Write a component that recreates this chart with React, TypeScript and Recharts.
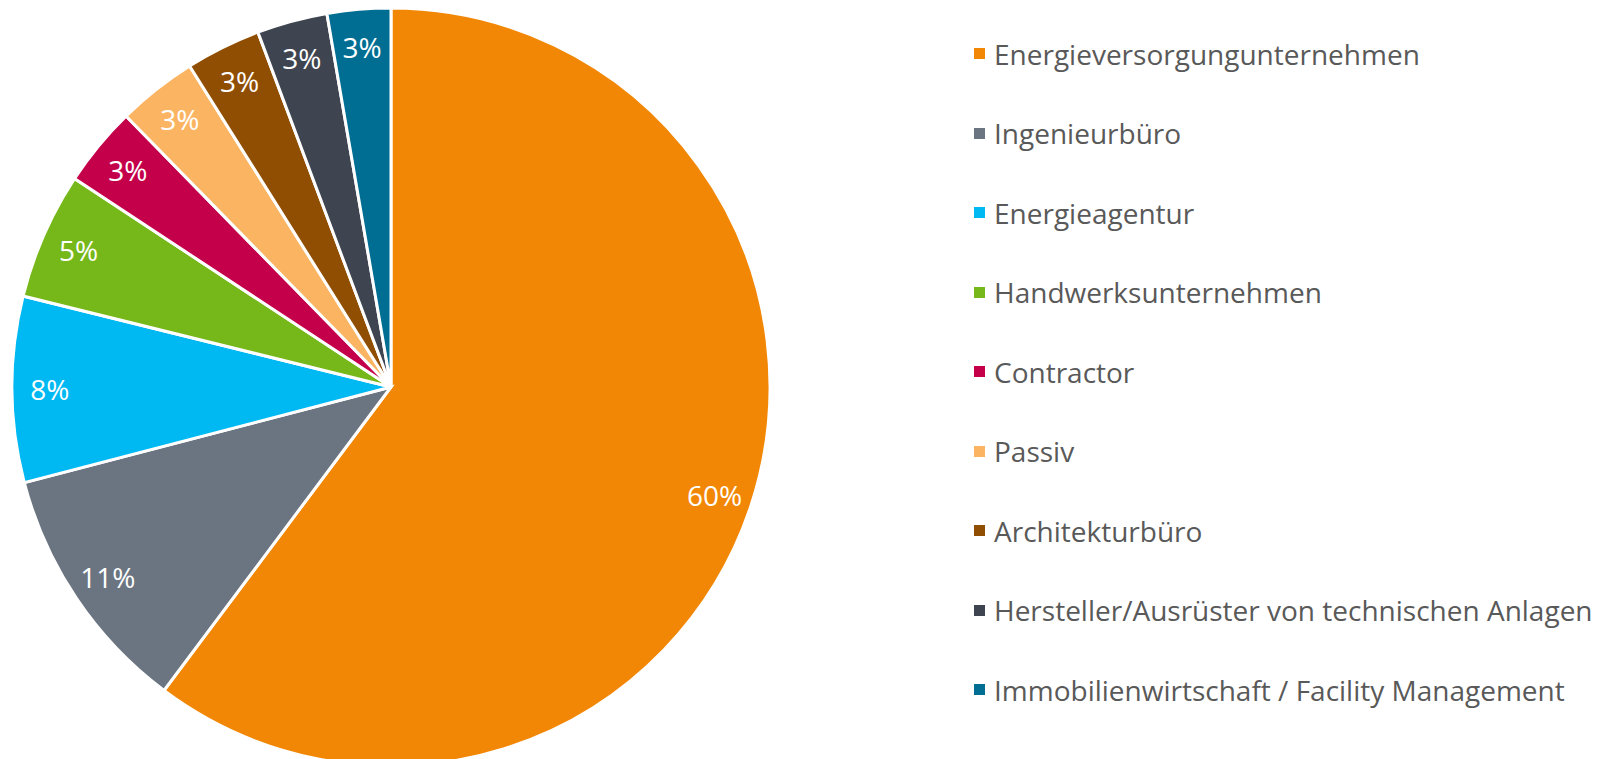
import React from 'react';
import { PieChart, Pie, Cell, Legend } from 'recharts';

const categories = [
  'Energieversorgungunternehmen',
  'Ingenieurbüro',
  'Energieagentur',
  'Handwerksunternehmen',
  'Contractor',
  'Passiv',
  'Architekturbüro',
  'Hersteller/Ausrüster von technischen Anlagen',
  'Immobilienwirtschaft / Facility Management',
];
const values = [60.1, 10.7, 7.9, 5.4, 3.4, 3.4, 3.2, 3.0, 2.7];
const colors = ['#F28705', '#6B7581', '#00B9F2', '#76B81A', '#C4004A', '#FBB462', '#8F4E02', '#3E4550', '#006E93'];

const data = categories.map((name, i) => ({ name, value: values[i] }));

const FONT = '"Open Sans", sans-serif';
const RADIAN = Math.PI / 180;

const renderLabel = (props: any) => {
  const { cx, cy, midAngle, outerRadius, percent } = props;
  const r = outerRadius * 0.9;
  const x = cx + r * Math.cos(-midAngle * RADIAN);
  const y = cy + r * Math.sin(-midAngle * RADIAN);
  return (
    <text x={x} y={y} fill="#FFFFFF" textAnchor="middle" dominantBaseline="central" fontFamily={FONT} fontSize={28}>
      {`${Math.round(percent * 100)}%`}
    </text>
  );
};

const renderLegend = () => {
  return (
    <div style={{ fontFamily: FONT }}>
      {categories.map((name, i) => (
        <div key={name} style={{ display: 'flex', alignItems: 'center', height: 79.5 }}>
          <span style={{ display: 'inline-block', width: 11, height: 11, background: colors[i], marginRight: 9, flexShrink: 0 }} />
          <span style={{ fontSize: 28, color: '#595959', whiteSpace: 'nowrap' }}>{name}</span>
        </div>
      ))}
    </div>
  );
};

export default function App() {
  return (
    <div style={{ position: 'absolute', left: 0, top: 0, width: 1601, height: 759, background: '#fff' }}>
      <PieChart width={1601} height={759} margin={{ top: 0, right: 0, bottom: 0, left: 0 }}>
        <Pie
          data={data}
          dataKey="value"
          nameKey="name"
          cx={391}
          cy={387}
          outerRadius={379}
          startAngle={90}
          endAngle={-270}
          stroke="#FFFFFF"
          strokeWidth={3}
          label={renderLabel}
          labelLine={false}
          isAnimationActive={false}
        >
          {data.map((d, i) => (
            <Cell key={d.name} fill={colors[i]} />
          ))}
        </Pie>
        <Legend
          layout="vertical"
          align="right"
          verticalAlign="top"
          content={renderLegend}
          wrapperStyle={{ left: 974, right: 'auto', top: 14, width: 625 }}
        />
      </PieChart>
    </div>
  );
}
